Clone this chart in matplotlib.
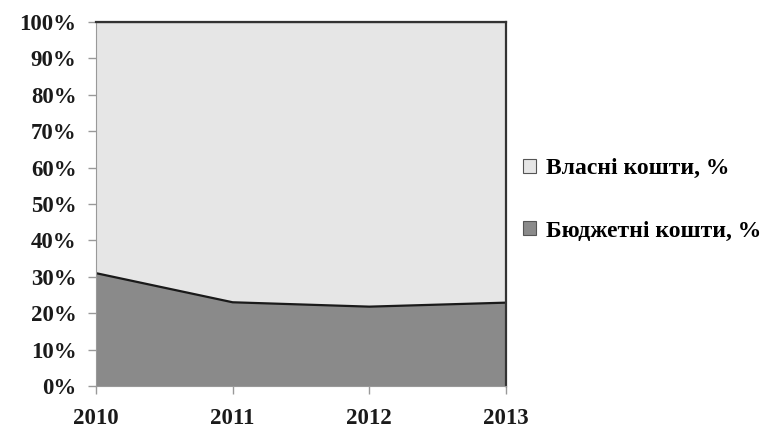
import numpy as np
import matplotlib.pyplot as plt
from matplotlib.patches import Patch

years = ["2010", "2011", "2012", "2013"]
budget_pct = [31.0, 23.0, 21.8, 22.9]
own_pct = [100 - v for v in budget_pct]
series_labels = ["Бюджетні кошти, %", "Власні кошти, %"]
y_ticks = list(range(0, 101, 10))

plt.rcParams["font.family"] = ["Liberation Serif", "DejaVu Serif"]
plt.rcParams["font.weight"] = "bold"

fig = plt.figure(figsize=(7.83, 4.30), dpi=100)
ax = fig.add_axes([96 / 783, 44 / 430, 410 / 783, 364 / 430])

x = np.arange(len(years))
dark = "#8a8a8a"
light = "#e6e6e6"
ax.stackplot(x, budget_pct, own_pct, colors=[dark, light], edgecolor="none")
# dark outlines along the top of each area
ax.plot(x, budget_pct, color="#1a1a1a", lw=1.6)
ax.plot(x, np.add(budget_pct, own_pct), color="#333333", lw=1.6)

ax.set_xlim(0, len(years) - 1)
ax.set_ylim(0, 100)
ax.set_xticks(x)
ax.set_xticklabels(years)
ax.set_yticks(y_ticks)
ax.set_yticklabels([f"{t}%" for t in y_ticks])
ax.tick_params(axis="both", labelsize=16.5, colors="#999999", labelcolor="#1a1a1a",
               length=6, width=1)
ax.tick_params(axis="x", pad=10)
ax.tick_params(axis="y", pad=8)
for lab in ax.get_xticklabels() + ax.get_yticklabels():
    lab.set_fontweight("bold")

ax.spines["left"].set_color("#999999")
ax.spines["bottom"].set_color("#999999")
ax.spines["top"].set_color("#333333")
ax.spines["right"].set_color("#333333")
ax.spines["top"].set_linewidth(1.6)
ax.spines["right"].set_linewidth(1.6)

handles = [Patch(facecolor=light, edgecolor="#555555", lw=0.8),
           Patch(facecolor=dark, edgecolor="#555555", lw=0.8)]
fig.legend(handles, [series_labels[1], series_labels[0]],
           loc="center left", bbox_to_anchor=(502 / 783, 0.535),
           frameon=False, prop={"size": 17, "weight": "bold"},
           handlelength=0.55, handleheight=0.55, handletextpad=0.4,
           labelspacing=1.75)

fig.savefig("out.png", dpi=100)
